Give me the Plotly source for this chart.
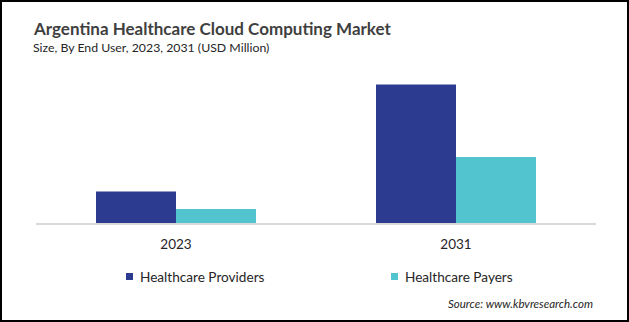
import plotly.graph_objects as go

years = ["2023", "2031"]
series_names = ["Healthcare Providers", "Healthcare Payers"]
providers = [31.5, 138.5]
payers = [14.0, 66.0]
colors = ["#2c3a8f", "#52c4d0"]

W, H = 629, 322
ML, MR, MT, MB = 36, 33, 60, 99
PW, PH = W - ML - MR, H - MT - MB

def px(x):
    return (x - ML) / PW

def py(y):
    return (H - MB - y) / PH

fig = go.Figure()
for name, vals, col in zip(series_names, [providers, payers], colors):
    fig.add_trace(go.Bar(x=years, y=vals, name=name, marker=dict(color=col, line=dict(width=0)),
                         showlegend=False))

font = "Lato, 'Open Sans', sans-serif"
annotations = [
    dict(text="<b>Argentina Healthcare Cloud Computing Market</b>", x=px(31), y=py(28),
         xanchor="left", yanchor="middle", font=dict(size=17, color="#3f3f3f", family=font)),
    dict(text="Size, By End User, 2023, 2031 (USD Million)", x=px(31), y=py(47),
         xanchor="left", yanchor="middle", font=dict(size=12.3, color="#262626", family=font)),
    dict(text="<i>Source: www.kbvresearch.com</i>", x=px(595), y=py(303),
         xanchor="right", yanchor="middle", font=dict(size=11.5, color="#262626", family=font)),
]
shapes = []
leg_x = [126, 391]
for name, col, lx in zip(series_names, colors, leg_x):
    shapes.append(dict(type="rect", xref="paper", yref="paper", x0=px(lx), x1=px(lx + 7),
                       y0=py(280), y1=py(273), fillcolor=col, line=dict(width=0)))
    annotations.append(dict(text=name, x=px(lx + 12), y=py(277), xanchor="left", yanchor="middle",
                            font=dict(size=13.6, color="#262626", family=font)))

shapes.append(dict(type="rect", xref="paper", yref="paper", x0=px(1), x1=px(628), y0=py(1), y1=py(321),
                   line=dict(color="#000000", width=2), fillcolor="rgba(0,0,0,0)"))

for a in annotations:
    a.update(xref="paper", yref="paper", showarrow=False)

fig.update_layout(
    width=W, height=H,
    margin=dict(l=ML, r=MR, t=MT, b=MB, pad=0),
    paper_bgcolor="white", plot_bgcolor="white",
    barmode="group", bargap=0.4286, bargroupgap=0,
    xaxis=dict(showline=True, linecolor="#d9d9d9", linewidth=1.5, ticks="", showgrid=False,
               tickfont=dict(size=13.5, color="#262626", family=font), ticklabelstandoff=8),
    yaxis=dict(visible=False, range=[0, 163], showgrid=False, zeroline=False),
    annotations=annotations, shapes=shapes, showlegend=False,
)

fig.write_html("out.html")
